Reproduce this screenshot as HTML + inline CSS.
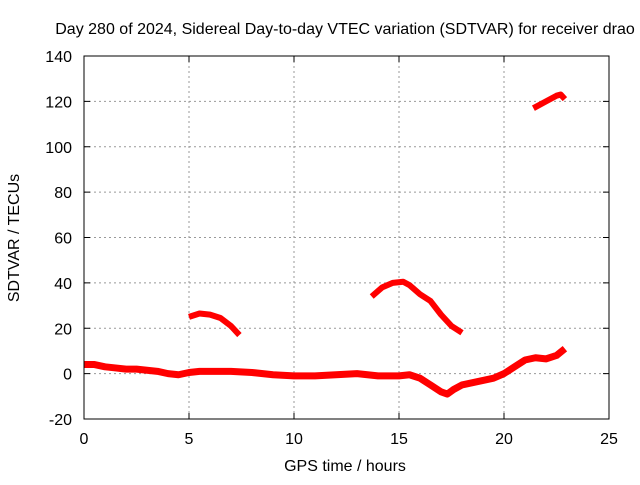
<!DOCTYPE html>
<html><head><meta charset="utf-8"><style>
body{margin:0;background:#fff;}
svg text{font-family:"Liberation Sans",sans-serif;font-size:16px;fill:#000;}
</style></head><body>
<svg id="c" width="640" height="480">
<text x="345" y="34" text-anchor="middle">Day 280 of 2024, Sidereal Day-to-day VTEC variation (SDTVAR) for receiver drao</text>
<text x="345" y="471" text-anchor="middle">GPS time / hours</text>
<text transform="translate(19,238) rotate(-90)" text-anchor="middle">SDTVAR / TECUs</text>
<g id="grid"></g><g id="series"></g>
<rect x="84" y="56" width="525" height="363" fill="none" stroke="#000" stroke-width="1"/>
</svg>
<script>
const xTicks=[0,5,10,15,20,25];
const yTicks=[-20,0,20,40,60,80,100,120,140];
const mainX=[0,0.5,1,1.5,2,2.5,3,3.5,4,4.5,5,5.5,6,7,8,9,10,11,12,13,14,15,15.5,16,16.5,17,17.3,17.6,18,18.5,19,19.5,20,20.5,21,21.5,22,22.5,22.9];
const mainY=[4,4,3,2.5,2,2,1.5,1,0,-0.5,0.5,1,1,1,0.5,-0.5,-1,-1,-0.5,0,-1,-1,-0.5,-2,-5,-8,-9,-7,-5,-4,-3,-2,0,3,6,7,6.5,8,11];
const arc1X=[5,5.5,6,6.5,7,7.4];
const arc1Y=[25,26.5,26,24.5,21,17];
const arc2X=[13.7,14.2,14.7,15.2,15.5,16,16.5,17,17.5,18];
const arc2Y=[34,38,40,40.5,39,35,32,26,21,18];
const arc3X=[21.4,22,22.5,22.7,22.9];
const arc3Y=[117,120,122.5,123,121];
const L=84,R=609,T=56,B=419;
const sx=v=>L+(v-0)/25*(R-L);
const sy=v=>B-(v+20)/160*(B-T);
const NS="http://www.w3.org/2000/svg";
const svg=document.getElementById('c'),g=document.getElementById('grid'),s=document.getElementById('series');
function mk(t,a,p){const e=document.createElementNS(NS,t);for(const k in a)e.setAttribute(k,a[k]);p.appendChild(e);return e;}
xTicks.forEach(v=>{const x=sx(v);
 if(v>0&&v<25){const l=mk('line',{x1:x,x2:x,y1:T,y2:B,stroke:'#999','stroke-dasharray':'2,3'},g);
 
 }
 mk('line',{x1:x,x2:x,y1:B,y2:B-6,stroke:'#000'},g);mk('line',{x1:x,x2:x,y1:T,y2:T+6,stroke:'#000'},g);
 const t=mk('text',{x:x,y:B+25,'text-anchor':'middle'},g);t.textContent=v;
 
 });
yTicks.forEach(v=>{const y=sy(v);
 if(v>-20&&v<140){const l=mk('line',{x1:L,x2:R,y1:y,y2:y,stroke:'#999','stroke-dasharray':'2,3'},g);
 
 }
 mk('line',{x1:L,x2:L+6,y1:y,y2:y,stroke:'#000'},g);mk('line',{x1:R,x2:R-6,y1:y,y2:y,stroke:'#000'},g);
 const t=mk('text',{x:L-12,y:y+6,'text-anchor':'end'},g);t.textContent=v;
 
 });
function series(X,Y,name,w){const p=X.map((x,i)=>sx(x)+','+sy(Y[i])).join(' ');
 const e=mk('polyline',{points:p,fill:'none',stroke:'#f00','stroke-width':w,'stroke-linejoin':'round'},s);
 
 }
series(mainX,mainY,'sdtvar-main-series',7);
series(arc1X,arc1Y,'sdtvar-arc-5h',6);
series(arc2X,arc2Y,'sdtvar-arc-15h',6);
series(arc3X,arc3Y,'sdtvar-arc-22h',6);
</script>
</body></html>
